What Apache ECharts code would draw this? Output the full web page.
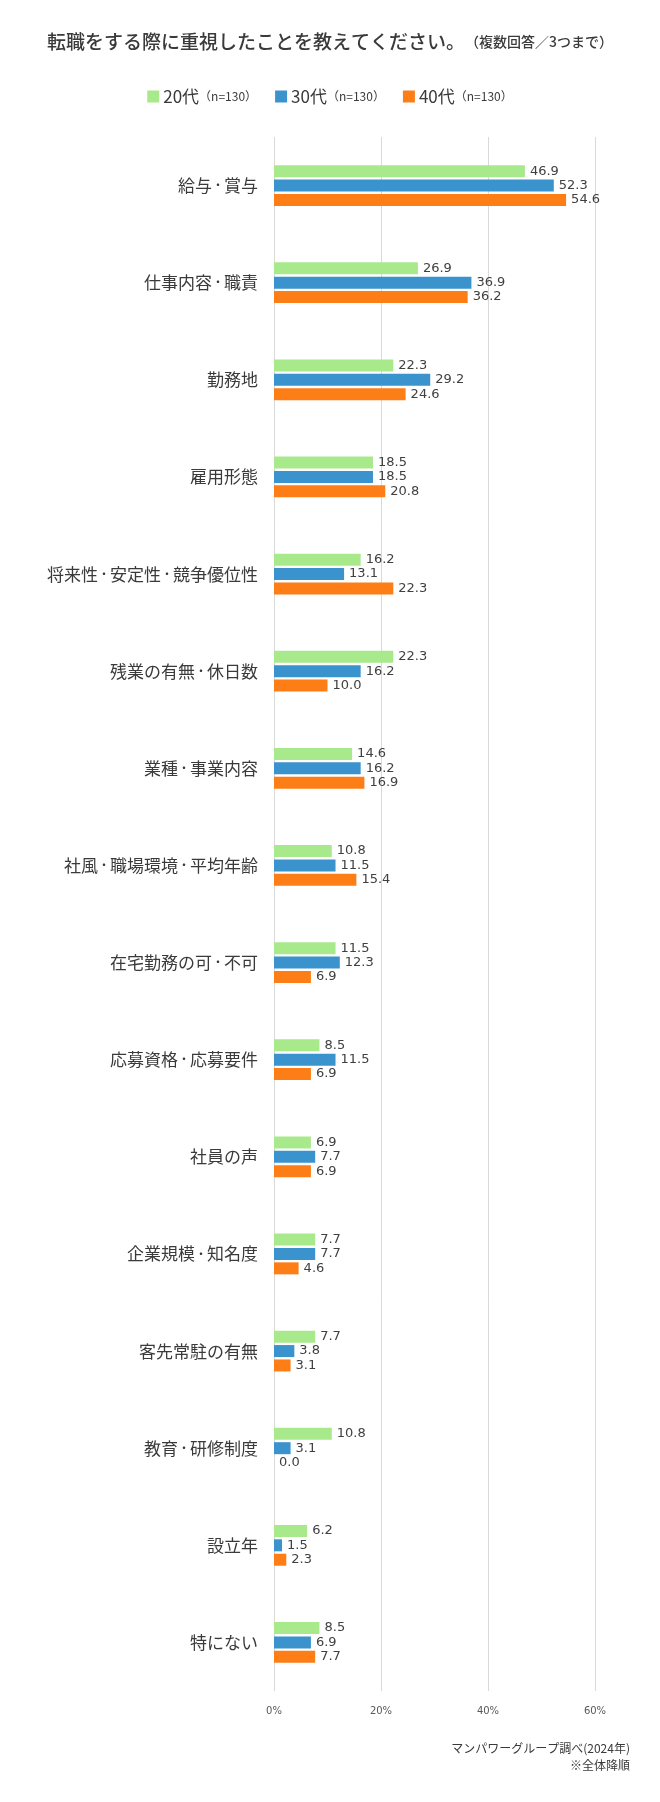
<!DOCTYPE html>
<html>
<head>
<meta charset="utf-8">
<script src="https://cdn.jsdelivr.net/npm/echarts@6/dist/echarts.min.js"></script>
<style>
html,body{margin:0;padding:0;background:#fff;}
#c{width:660px;height:1802px;}
</style>
</head>
<body>
<div id="c"></div>
<script>
const categories = [
  '給与・賞与','仕事内容・職責','勤務地','雇用形態','将来性・安定性・競争優位性',
  '残業の有無・休日数','業種・事業内容','社風・職場環境・平均年齢','在宅勤務の可・不可',
  '応募資格・応募要件','社員の声','企業規模・知名度','客先常駐の有無','教育・研修制度',
  '設立年','特にない'
];
const seriesNames = ['20代','30代','40代'];
const sampleSizes = [130,130,130];
const values20 = [46.9,26.9,22.3,18.5,16.2,22.3,14.6,10.8,11.5,8.5,6.9,7.7,7.7,10.8,6.2,8.5];
const values30 = [52.3,36.9,29.2,18.5,13.1,16.2,16.2,11.5,12.3,11.5,7.7,7.7,3.8,3.1,1.5,6.9];
const values40 = [54.6,36.2,24.6,20.8,22.3,10.0,16.9,15.4,6.9,6.9,6.9,4.6,3.1,0.0,2.3,7.7];
const xTicks = [0,20,40,60];
const titleMain = '転職をする際に重視したことを教えてください。';
const titleSub = '（複数回答／3つまで）';
const sourceLines = ['マンパワーグループ調べ(2024年)','※全体降順'];

const colors = ['#a8e98c','#3b93cd','#fd7e17'];
const allValues = [values20, values30, values40];
const JP = '"Noto Sans CJK JP", "Noto Sans", sans-serif';
const NUM = '"DejaVu Sans", Verdana, sans-serif';
const TXT = '#3a3a3a';

const chart = echarts.init(document.getElementById('c'), null, {renderer:'canvas'});
const option = {
  backgroundColor: '#ffffff',
  animation: false,
  title: {
    text: '{a|' + titleMain + '}{b|' + titleSub + '}',
    left: 'center', top: 27,
    textStyle: {
      rich: {
        a: {fontFamily: JP, fontSize: 19, color: TXT, fontWeight: 500},
        b: {fontFamily: JP, fontSize: 14, color: TXT, fontWeight: 500}
      }
    }
  },
  graphic: [
    {
      type: 'text', right: 30, top: 1742,
      style: {text: sourceLines[0], fontFamily: JP, fontSize: 12, fill: TXT, textAlign: 'right'}
    },
    {
      type: 'text', right: 30, top: 1759,
      style: {text: sourceLines[1], fontFamily: JP, fontSize: 12, fill: TXT, textAlign: 'right'}
    }
  ],
  legend: {
    top: 83, left: 'center',
    icon: 'rect', itemWidth: 12, itemHeight: 12, itemGap: 18,
    data: seriesNames,
    formatter: function (name) {
      const i = seriesNames.indexOf(name);
      return '{a|' + name + '}{b|（n=' + sampleSizes[i] + '）}';
    },
    textStyle: {
      padding: [0,0,0,-1],
      rich: {
        a: {fontFamily: JP, fontSize: 17, color: TXT},
        b: {fontFamily: JP, fontSize: 12, color: TXT}
      }
    }
  },
  grid: {left: 274, right: 65, top: 137, height: 1554, containLabel: false},
  xAxis: {
    type: 'value', min: 0, max: 60, interval: 20,
    axisLine: {show: false}, axisTick: {show: false},
    splitLine: {show: true, lineStyle: {color: '#d9d9d9', width: 1}},
    axisLabel: {
      fontFamily: NUM, fontSize: 10, color: '#595959', margin: 15,
      formatter: function (v) { return xTicks.indexOf(v) >= 0 ? v + '%' : ''; }
    }
  },
  yAxis: {
    type: 'category', data: categories, inverse: true,
    axisLine: {show: false}, axisTick: {show: false},
    axisLabel: {
      margin: 16,
      formatter: function (v) {
        return v.split('・').map(function (s) { return '{t|' + s + '}'; }).join('{d|・}');
      },
      rich: {
        t: {fontFamily: JP, fontSize: 17, color: TXT},
        d: {fontFamily: JP, fontSize: 12, color: TXT}
      }
    }
  },
  series: seriesNames.map(function (name, i) {
    return {
      name: name, type: 'bar', data: allValues[i],
      barWidth: 12, barGap: '20%',
      itemStyle: {color: colors[i]},
      label: {
        show: true, position: 'right', distance: 5,
        fontFamily: NUM, fontSize: 13, color: '#404040',
        formatter: function (p) { return Number(p.value).toFixed(1); }
      }
    };
  })
};
chart.setOption(option);
</script>
</body>
</html>
